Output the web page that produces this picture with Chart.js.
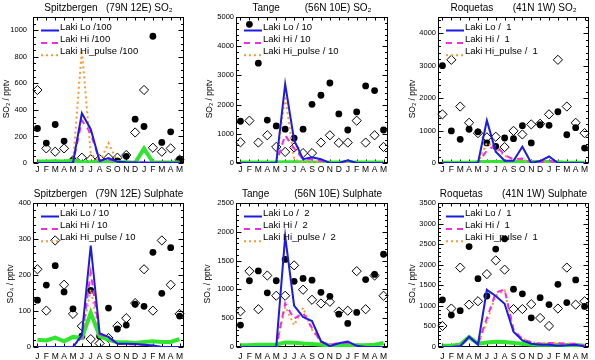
<!DOCTYPE html>
<html>
<head>
<meta charset="utf-8">
<script src="https://cdn.jsdelivr.net/npm/chart.js@4.4.1/dist/chart.umd.min.js"></script>
<style>
  html, body { margin: 0; padding: 0; background: #fff; }
  #wrap { position: relative; width: 595px; height: 360px; overflow: hidden; }
  #wrap canvas { position: absolute; }
</style>
</head>
<body>
<div id="wrap"></div>
<script>
const months = ['J','F','M','A','M','J','J','A','S','O','N','D','J','F','M','A','M'];

// Spitzbergen SO2 (model scaled /100)
const spitzSo2Ticks = [0, 200, 400, 600, 800, 1000];
const spitzSo2Obs   = [260, 150, 290, 165, 20, null, null, null, null, 15, 50, 330, 275, 955, 155, 235, 28];
const spitzSo2Clim  = [550, 110, 85, 110, 20, 40, 28, 28, 40, 40, 60, 230, 550, 115, 85, 110, 25];
const spitzSo2Lo    = [0, 0, 0, 0, 0, 375, 255, 15, 38, 10, 5, 3, 3, 2, 2, 2, 2];
const spitzSo2Hi    = [0, 0, 0, 0, 0, 320, 225, 15, 28, 8, 5, 3, 3, 2, 2, 2, 2];
const spitzSo2Pulse = [0, 0, 0, 0, 0, 850, 70, 8, 150, 10, 5, 3, 3, 2, 2, 2, 2];
const spitzSo2Ctl   = [12, 12, 14, 12, 18, 5, 5, 5, 5, 5, 5, 2, 110, 5, 4, 4, 4];

// Tange SO2 (/10)
const tangeSo2Ticks = [0, 1000, 2000, 3000, 4000, 5000];
const tangeSo2Obs   = [1430, 4750, 3420, 1470, 1270, 1160, 850, 1160, 2010, 2320, 2740, 1680, 1130, 1750, 2640, 2480, 1130];
const tangeSo2Clim  = [710, 1450, 700, 950, 550, 380, 530, 340, 340, 700, 950, 690, 700, 1450, 700, 950, 550];
const tangeSo2Lo    = [0, 0, 0, 0, 0, 2700, 780, 130, 200, 130, 0, 0, 90, 0, 0, 0, 0];
const tangeSo2Hi    = [0, 0, 0, 0, 0, 950, 500, 130, 130, 80, 0, 0, 40, 0, 0, 0, 0];
const tangeSo2Pulse = [0, 0, 0, 0, 0, 2300, 120, 30, 60, 30, 0, 0, 20, 0, 0, 0, 0];
const tangeSo2Ctl   = [20, 20, 20, 20, 20, 25, 25, 25, 20, 20, 20, 20, 20, 20, 20, 20, 20];

// Roquetas SO2 (/1)
const roqSo2Ticks = [0, 1000, 2000, 3000, 4000];
const roqSo2Obs   = [3000, 990, 730, 1040, 960, 620, 510, 770, 750, 1150, 620, 1180, 1160, 1580, 870, 1090, 460];
const roqSo2Clim  = [1500, 3180, 1740, 1240, 920, 790, 810, 490, 990, 880, 1190, 1210, 1500, 3180, 1740, 1240, 920];
const roqSo2Lo    = [0, 0, 0, 0, 0, 1310, 350, 70, 70, 500, 0, 60, 200, 0, 0, 0, 0];
const roqSo2Hi    = [0, 0, 0, 0, 0, 380, 550, 250, 110, 140, 20, 20, 70, 0, 0, 0, 0];
const roqSo2Pulse = [0, 0, 0, 0, 0, 620, 450, 220, 120, 110, 20, 20, 60, 0, 0, 0, 0];
const roqSo2Ctl   = [10, 10, 10, 10, 20, 30, 30, 30, 30, 30, 30, 30, 30, 20, 10, 10, 10];

// Spitzbergen sulphate (/10)
const spitzSo4Ticks = [0, 100, 200, 300, 400];
const spitzSo4Obs   = [130, 172, 226, 153, 106, 30, 157, 30, 108, 50, 61, 119, 113, 263, 149, 276, 86];
const spitzSo4Clim  = [216, 101, 296, 173, 92, 58, 22, 10, 25, 58, 80, 122, 216, 101, 296, 173, 92];
const spitzSo4Lo    = [0, 0, 0, 0, 0, 33, 282, 38, 28, 9, 9, 8, 6, 4, 0, 0, 0];
const spitzSo4Hi    = [0, 0, 0, 0, 0, 28, 207, 35, 25, 8, 8, 7, 6, 4, 0, 0, 0];
const spitzSo4Pulse = [0, 0, 0, 0, 0, 28, 160, 35, 28, 8, 8, 7, 6, 4, 0, 0, 0];
const spitzSo4Ctl   = [20, 18, 26, 16, 28, 25, 95, 30, 20, 13, 13, 11, 14, 16, 14, 14, 22];

// Tange sulphate (/2)
const tangeSo4Ticks = [0, 500, 1000, 1500, 2000, 2500];
const tangeSo4Obs   = [380, 1150, 1320, 940, 1150, 1520, 1140, 1190, 1160, 950, 880, 570, 410, 600, 1170, 1260, 1610];
const tangeSo4Clim  = [620, 1317, 656, 1241, 890, 890, 1417, 995, 820, 755, 785, 615, 630, 1317, 656, 1241, 890];
const tangeSo4Lo    = [0, 0, 0, 0, 0, 1920, 720, 520, 450, 100, 15, 65, 95, 20, 0, 0, 0];
const tangeSo4Hi    = [0, 0, 0, 0, 0, 760, 490, 590, 330, 90, 40, 70, 70, 20, 0, 0, 0];
const tangeSo4Pulse = [0, 0, 0, 0, 0, 700, 380, 680, 300, 80, 40, 70, 70, 20, 0, 0, 0];
const tangeSo4Ctl   = [30, 30, 40, 40, 40, 80, 75, 60, 50, 40, 30, 25, 25, 30, 30, 40, 70];

// Roquetas sulphate (/1)
const roqSo4Ticks = [0, 500, 1000, 1500, 2000, 2500, 3000, 3500];
const roqSo4Obs   = [1146, 775, 882, 2440, 1660, 1240, 2380, 2630, 1405, 1293, 708, 1200, 1030, 1524, 1080, 1630, 985];
const roqSo4Clim  = [511, 935, 1930, 1030, 1112, 1771, 2105, 1880, 922, 922, 1040, 705, 511, 935, 1930, 1030, 1112];
const roqSo4Lo    = [0, 0, 20, 250, 60, 1390, 1240, 1050, 370, 160, 80, 55, 55, 30, 40, 55, 15];
const roqSo4Hi    = [0, 0, 20, 250, 60, 700, 1320, 1400, 420, 190, 110, 80, 95, 95, 80, 80, 30];
const roqSo4Pulse = [0, 0, 20, 250, 60, 620, 1250, 1380, 400, 200, 120, 90, 100, 90, 80, 80, 30];
const roqSo4Ctl   = [30, 30, 60, 240, 80, 110, 130, 120, 100, 80, 60, 55, 55, 55, 50, 50, 30];

const FONT = '"Liberation Sans", Arial, Helvetica, sans-serif';
Chart.defaults.font.family = FONT;

// box round the plot with IDL style inward ticks
const framePlugin = {
  id: 'frame',
  beforeDatasetsDraw(chart) {
    const {ctx, chartArea: a, scales: {x, y}} = chart;
    const L = Math.round(a.left) + 0.5, R = Math.round(a.right) - 0.5;
    const T = Math.round(a.top) + 0.5, B = Math.round(a.bottom) - 0.5;
    ctx.save();
    ctx.strokeStyle = '#000';
    ctx.lineWidth = 1;
    ctx.strokeRect(L, T, R - L, B - T);
    ctx.beginPath();
    const step = y.ticks[1].value - y.ticks[0].value;
    const nMinor = String(step)[0] === '2' ? 4 : 5;
    for (let v = 0; v <= y.max + 1e-9; v += step / nMinor) {
      const py = Math.round(y.getPixelForValue(v)) + 0.5;
      const major = Math.abs(v / step - Math.round(v / step)) < 1e-6;
      const len = major ? 5 : 2.5;
      ctx.moveTo(L, py); ctx.lineTo(L + len, py);
      ctx.moveTo(R, py); ctx.lineTo(R - len, py);
    }
    x.ticks.forEach((t, i) => {
      const px = Math.round(x.getPixelForTick(i)) + 0.5;
      ctx.moveTo(px, B); ctx.lineTo(px, B - 3);
      ctx.moveTo(px, T); ctx.lineTo(px, T + 3);
    });
    ctx.stroke();
    ctx.restore();
  }
};

const legendPlugin = {
  id: 'lakiLegend',
  afterDatasetsDraw(chart) {
    const {ctx, chartArea: a} = chart;
    let row = 0;
    ctx.save();
    ctx.font = '9.5px ' + FONT;
    ctx.textBaseline = 'middle';
    chart.data.datasets.forEach(ds => {
      if (!ds.legendText) return;
      const ty = a.top + 10 + row * 12.4;
      ctx.beginPath();
      ctx.strokeStyle = ds.borderColor;
      ctx.lineWidth = ds.borderWidth;
      ctx.setLineDash(ds.borderDash || []);
      ctx.moveTo(a.left + 8, ty + 3.5);
      ctx.lineTo(a.left + 26, ty + 3.5);
      ctx.stroke();
      ctx.setLineDash([]);
      ctx.fillStyle = '#000';
      ctx.fillText(ds.legendText, a.left + 27, ty);
      row++;
    });
    ctx.restore();
  }
};

const textPlugin = {
  id: 'panelText',
  afterDraw(chart, args, opts) {
    const {ctx, chartArea: a} = chart;
    ctx.save();
    ctx.fillStyle = '#000';
    ctx.textAlign = 'center';
    ctx.textBaseline = 'middle';
    ctx.font = '10px ' + FONT;
    ctx.fillText(opts.title, (a.left + a.right) / 2, a.top - 8.5);
    ctx.translate(opts.yTitleX, (a.top + a.bottom) / 2 + 9);
    ctx.rotate(-Math.PI / 2);
    ctx.font = '8.5px ' + FONT;
    ctx.fillText(opts.yTitle, 0, 0);
    ctx.restore();
  }
};

const panels = [
  {left: 0, top: 0, width: 195, axisW: 33, padRight: 11, padTop: 17, xAxisH: 17, xPad: 2,
   yMax: 1100, yTicks: spitzSo2Ticks, yTickPad: 6, yTitleX: 6.5,
   title: 'Spitzbergen   (79N 12E) SO₂', yTitle: 'SO₂ / pptv', div: '/100',
   obs: spitzSo2Obs, clim: spitzSo2Clim, lo: spitzSo2Lo, hi: spitzSo2Hi, pulse: spitzSo2Pulse, ctl: spitzSo2Ctl},
  {left: 195, top: 0, width: 200, axisW: 41, padRight: 7, padTop: 17, xAxisH: 17, xPad: 2,
   yMax: 5000, yTicks: tangeSo2Ticks, yTickPad: 2, yTitleX: 14.5,
   title: 'Tange         (56N 10E) SO₂', yTitle: 'SO₂ / pptv', div: '/ 10',
   obs: tangeSo2Obs, clim: tangeSo2Clim, lo: tangeSo2Lo, hi: tangeSo2Hi, pulse: tangeSo2Pulse, ctl: tangeSo2Ctl},
  {left: 395, top: 0, width: 200, axisW: 43, padRight: 6, padTop: 17, xAxisH: 17, xPad: 2,
   yMax: 4500, yTicks: roqSo2Ticks, yTickPad: 2, yTitleX: 17.5,
   title: 'Roquetas       (41N 1W) SO₂', yTitle: 'SO₂ / pptv', div: '/  1',
   obs: roqSo2Obs, clim: roqSo2Clim, lo: roqSo2Lo, hi: roqSo2Hi, pulse: roqSo2Pulse, ctl: roqSo2Ctl},
  {left: 0, top: 180, width: 195, axisW: 33, padRight: 11, padTop: 23, xAxisH: 13, xPad: 5,
   yMax: 400, yTicks: spitzSo4Ticks, yTickPad: 2, yTitleX: 11,
   title: 'Spitzbergen   (79N 12E) Sulphate', yTitle: 'SO₄ / pptv', div: '/ 10',
   obs: spitzSo4Obs, clim: spitzSo4Clim, lo: spitzSo4Lo, hi: spitzSo4Hi, pulse: spitzSo4Pulse, ctl: spitzSo4Ctl},
  {left: 195, top: 180, width: 200, axisW: 41, padRight: 7, padTop: 23, xAxisH: 13, xPad: 5,
   yMax: 2500, yTicks: tangeSo4Ticks, yTickPad: 2, yTitleX: 13,
   title: 'Tange         (56N 10E) Sulphate', yTitle: 'SO₄ / pptv', div: '/  2',
   obs: tangeSo4Obs, clim: tangeSo4Clim, lo: tangeSo4Lo, hi: tangeSo4Hi, pulse: tangeSo4Pulse, ctl: tangeSo4Ctl},
  {left: 395, top: 180, width: 200, axisW: 43, padRight: 6, padTop: 23, xAxisH: 13, xPad: 5,
   yMax: 3500, yTicks: roqSo4Ticks, yTickPad: 2, yTitleX: 17.5,
   title: 'Roquetas       (41N 1W) Sulphate', yTitle: 'SO₄ / pptv', div: '/  1',
   obs: roqSo4Obs, clim: roqSo4Clim, lo: roqSo4Lo, hi: roqSo4Hi, pulse: roqSo4Pulse, ctl: roqSo4Ctl}
];

function makeChart(p) {
  const cv = document.createElement('canvas');
  cv.width = p.width;
  cv.height = 180;
  cv.style.left = p.left + 'px';
  cv.style.top = p.top + 'px';
  document.getElementById('wrap').appendChild(cv);

  new Chart(cv.getContext('2d'), {
    type: 'line',
    data: {
      labels: months,
      datasets: [
        {label: 'Laki Lo', legendText: 'Laki Lo ' + p.div, data: p.lo,
         borderColor: '#1c1ce0', borderWidth: 2, pointRadius: 0, order: 1},
        {label: 'Laki Hi', legendText: 'Laki Hi ' + p.div, data: p.hi,
         borderColor: '#ee2ee6', borderWidth: 2, borderDash: [6, 5], pointRadius: 0, order: 2},
        {label: 'Laki Hi_pulse', legendText: 'Laki Hi_pulse ' + p.div, data: p.pulse,
         borderColor: '#f59a3a', borderWidth: 2, borderDash: [2, 3], pointRadius: 0, order: 3},
        {label: 'control', data: p.ctl,
         borderColor: '#2ee62e', borderWidth: 4, pointRadius: 0, order: 4},
        {label: 'obs', data: p.obs, showLine: false, borderColor: '#000',
         pointStyle: 'circle', pointRadius: 3.4, pointBackgroundColor: '#000', pointBorderWidth: 0, order: 5},
        {label: 'climatology', data: p.clim, showLine: false, borderColor: '#000',
         pointStyle: 'rectRot', pointRadius: 4.6, pointBackgroundColor: 'rgba(0,0,0,0)',
         pointBorderColor: '#000', pointBorderWidth: 1, order: 6}
      ]
    },
    options: {
      responsive: false,
      animation: false,
      devicePixelRatio: 1,
      layout: {padding: {left: 0, right: p.padRight, top: p.padTop, bottom: 0}},
      elements: {line: {tension: 0}},
      plugins: {
        legend: {display: false},
        tooltip: {enabled: false},
        panelText: {title: p.title, yTitle: p.yTitle, yTitleX: p.yTitleX}
      },
      scales: {
        x: {
          offset: true,
          grid: {display: false, drawTicks: false},
          border: {display: false},
          ticks: {font: {size: 8.5}, color: '#000', padding: p.xPad, autoSkip: false, maxRotation: 0},
          afterFit(s) { s.height = p.xAxisH; }
        },
        y: {
          min: 0,
          max: p.yMax,
          grid: {display: false, drawTicks: false},
          border: {display: false},
          ticks: {font: {size: 7.5}, color: '#000', padding: p.yTickPad,
                  callback: v => String(v)},
          afterBuildTicks(s) { s.ticks = p.yTicks.map(v => ({value: v})); },
          afterFit(s) { s.width = p.axisW; }
        }
      }
    },
    plugins: [framePlugin, legendPlugin, textPlugin]
  });
}

panels.forEach(makeChart);
</script>
</body>
</html>
